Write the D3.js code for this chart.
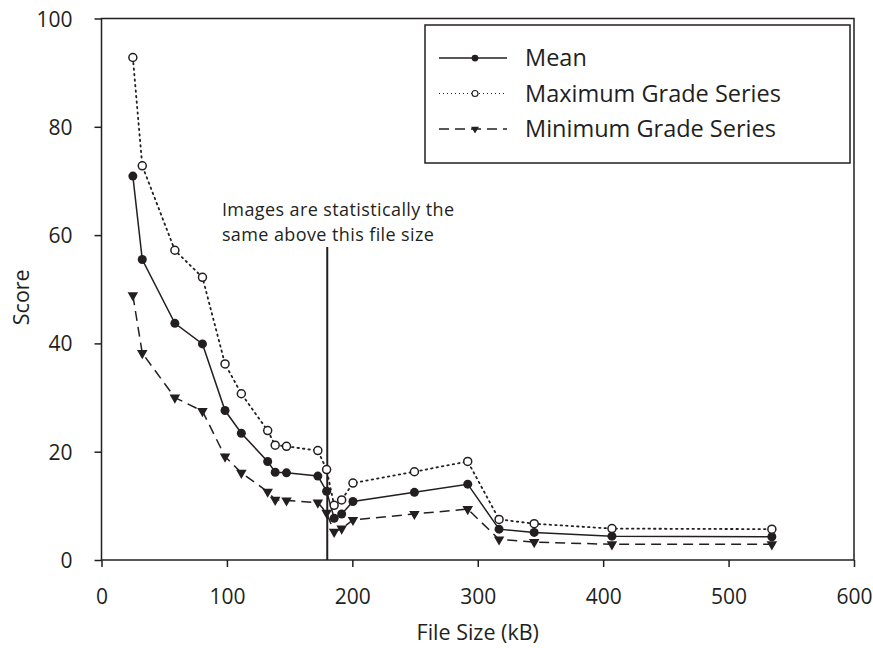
<!DOCTYPE html>
<html>
<head>
<meta charset="utf-8">
<script src="https://cdn.jsdelivr.net/npm/d3@7"></script>
<style>
  body { margin: 0; background: #fff; }
  text { font-family: "Open Sans", sans-serif; fill: #231f20; }
</style>
</head>
<body>
<div id="chart"></div>
<script>
// file sizes (kB) shared by all series
var fileSize = [25, 32.5, 58.5, 80.5, 98.5, 111.5, 132.5, 138.5, 147.5, 172.5, 179.5, 185.5, 191.5, 200.5, 249.5, 292, 317, 345, 407, 534.5];
var meanScore = [70.9, 55.5, 43.7, 39.9, 27.6, 23.4, 18.2, 16.2, 16.1, 15.5, 12.7, 7.7, 8.5, 10.8, 12.5, 14.0, 5.7, 5.1, 4.4, 4.3];
var maxScore = [92.8, 72.8, 57.2, 52.2, 36.2, 30.7, 23.9, 21.2, 21.0, 20.2, 16.7, 10.1, 11.1, 14.2, 16.3, 18.2, 7.5, 6.7, 5.8, 5.7];
var minScore = [48.9, 38.2, 30.0, 27.5, 19.1, 16.1, 12.6, 11.1, 11.0, 10.6, 8.7, 5.2, 5.8, 7.4, 8.5, 9.4, 3.8, 3.3, 2.9, 2.9];
var seriesNames = ["Mean", "Maximum Grade Series", "Minimum Grade Series"];
var xTicks = [0, 100, 200, 300, 400, 500, 600];
var yTicks = [0, 20, 40, 60, 80, 100];
var cutoffSize = 180, cutoffTop = 57.8;
var noteLines = ["Images are statistically the", "same above this file size"];
var noteX = 96;

var ink = "#231f20";
var margin = { top: 18.5, left: 101.5, right: 19, bottom: 88 },
  width = 873 - margin.left - margin.right,
  height = 648 - margin.top - margin.bottom;

var svg = d3.select("#chart").append("svg")
  .attr("width", 873)
  .attr("height", 648);

var g = svg.append("g")
  .attr("transform", "translate(" + margin.left + "," + margin.top + ")");

var x = d3.scaleLinear().domain([0, 600]).range([0, width]);
var y = d3.scaleLinear().domain([0, 100]).range([height, 0]);

// frame
g.append("rect")
  .attr("width", width).attr("height", height)
  .attr("fill", "none").attr("stroke", ink).attr("stroke-width", 1.5);

var xAxis = g.append("g")
  .attr("transform", "translate(0," + height + ")")
  .call(d3.axisBottom(x).tickValues(xTicks).tickSize(7).tickPadding(22));
var yAxis = g.append("g")
  .call(d3.axisLeft(y).tickValues(yTicks).tickSize(7).tickPadding(22));

[xAxis, yAxis].forEach(a => {
  a.select(".domain").remove();
  a.selectAll("line").attr("stroke", ink).attr("stroke-width", 1.5);
  a.selectAll("text").attr("font-size", 21).attr("fill", ink)
    .style("font-family", "'Open Sans', sans-serif");
});
yAxis.selectAll("text").attr("dy", "0.36em");

g.append("text")
  .attr("x", width / 2).attr("y", height + 80)
  .attr("text-anchor", "middle").attr("font-size", 21.5)
  .text("File Size (kB)");

g.append("text")
  .attr("transform", "translate(" + (-73) + "," + (height / 2 + 8) + ") rotate(-90)")
  .attr("text-anchor", "middle").attr("font-size", 21.5)
  .text("Score");

// cutoff line and note
g.append("line")
  .attr("x1", x(cutoffSize)).attr("x2", x(cutoffSize))
  .attr("y1", y(0)).attr("y2", y(cutoffTop))
  .attr("stroke", ink).attr("stroke-width", 2);

g.selectAll(".note")
  .data(noteLines)
  .enter().append("text")
  .attr("class", "note")
  .attr("x", x(noteX))
  .attr("y", (d, i) => 197.5 + i * 24.5)
  .attr("font-size", 18)
  .attr("letter-spacing", 0.4)
  .text(d => d);

var series = [
  { name: seriesNames[0], values: meanScore, dash: null, marker: "dot" },
  { name: seriesNames[1], values: maxScore, dash: "1.5,4", marker: "ring" },
  { name: seriesNames[2], values: minScore, dash: "10,6", marker: "tri" }
];

var line = d3.line()
  .x(d => x(d[0]))
  .y(d => y(d[1]));

var tri = d3.symbol().type(d3.symbolTriangle).size(48);

function drawMarker(sel, kind) {
  if (kind === "dot") {
    sel.append("circle").attr("r", 4.5).attr("fill", ink);
  } else if (kind === "ring") {
    sel.append("circle").attr("r", 4).attr("fill", "#fff")
      .attr("stroke", ink).attr("stroke-width", 1.5);
  } else {
    sel.append("path").attr("d", tri).attr("transform", "rotate(180)")
      .attr("fill", ink);
  }
}

series.forEach(s => {
  var pts = fileSize.map((f, i) => [f, s.values[i]]);
  g.append("path")
    .datum(pts)
    .attr("d", line)
    .attr("fill", "none")
    .attr("stroke", ink)
    .attr("stroke-width", s.marker === "ring" ? 1.8 : 1.5)
    .attr("stroke-dasharray", s.dash)
    .attr("stroke-linecap", s.marker === "ring" ? "round" : "butt");
  g.selectAll(".m-" + s.marker)
    .data(pts)
    .enter().append("g")
    .attr("class", "m-" + s.marker)
    .attr("transform", d => "translate(" + x(d[0]) + "," + y(d[1]) + ")")
    .each(function() { drawMarker(d3.select(this), s.marker); });
});

// legend
var legend = svg.append("g").attr("transform", "translate(425,25)");
legend.append("rect")
  .attr("width", 425).attr("height", 138)
  .attr("fill", "#fff").attr("stroke", ink).attr("stroke-width", 1.5);

var rows = legend.selectAll(".row")
  .data(series)
  .enter().append("g")
  .attr("class", "row")
  .attr("transform", (d, i) => "translate(0," + (33 + i * 35.5) + ")");

rows.append("line")
  .attr("x1", 14).attr("x2", 82)
  .attr("stroke", ink)
  .attr("stroke-width", d => d.marker === "ring" ? 1.2 : 1.3)
  .attr("stroke-dasharray", d => d.marker === "ring" ? "1,3" : d.dash);

rows.append("g")
  .attr("transform", "translate(50,0) scale(0.75)")
  .each(function(d) { drawMarker(d3.select(this), d.marker); });

rows.append("text")
  .attr("x", 100).attr("dy", "0.35em")
  .attr("font-size", 23.5)
  .text(d => d.name);
</script>
</body>
</html>
